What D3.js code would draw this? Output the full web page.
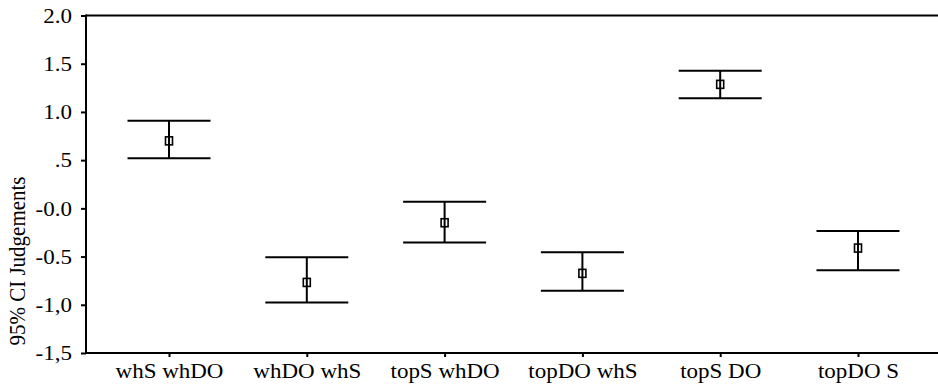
<!DOCTYPE html>
<html>
<head>
<meta charset="utf-8">
<script src="https://cdn.jsdelivr.net/npm/d3@7"></script>
<style>
  body { margin: 0; background: #fff; }
  text { font-family: "Liberation Serif", "Times New Roman", serif; }
</style>
</head>
<body>
<script>
var categories = ["whS whDO", "whDO whS", "topS whDO", "topDO whS", "topS DO", "topDO S"];
var means = [0.70, -0.768, -0.149, -0.674, 1.286, -0.412];
var upper = [0.909, -0.508, 0.069, -0.456, 1.427, -0.235];
var lower = [0.52, -0.975, -0.353, -0.855, 1.141, -0.643];
var yTicks = [2.0, 1.5, 1.0, 0.5, 0, -0.5, -1.0, -1.5];
var yTickLabels = ["2.0", "1.5", "1.0", ".5", "-0.0", "-0.5", "-1,0", "-1,5"];

var width = 938, height = 388;
var stretch = 1.15; // text in the original looks a bit wide

var svg = d3.select("body").append("svg")
    .attr("width", width)
    .attr("height", height);

var x = d3.scalePoint()
    .domain(categories)
    .range([169, 858]);

var y = d3.scaleLinear()
    .domain([-1.5, 2])
    .range([353, 15.5]);

var axisX = 86;

// y axis
var yAxis = svg.append("g")
    .attr("transform", "translate(" + axisX + ",0)")
    .call(d3.axisLeft(y)
        .tickValues(yTicks)
        .tickSize(5)
        .tickFormat(function(d, i) { return yTickLabels[i]; }));

yAxis.selectAll(".tick text")
    .attr("x", -14 / stretch)
    .attr("dy", "0.34em");

// x axis
var xAxis = svg.append("g")
    .attr("transform", "translate(0," + y(-1.5) + ")")
    .call(d3.axisBottom(x).tickSize(4).tickPadding(7));

svg.selectAll(".domain").remove();
svg.selectAll(".tick line").attr("stroke", "#000").attr("stroke-width", 2);
svg.selectAll(".tick text")
    .attr("fill", "#000")
    .attr("transform", "scale(" + stretch + ",1)")
    .style("font-size", "20px");

// frame lines
svg.append("line")
    .attr("x1", axisX).attr("x2", axisX)
    .attr("y1", y(2) - 1).attr("y2", y(-1.5) + 1)
    .attr("stroke", "#000").attr("stroke-width", 2);
svg.append("line")
    .attr("x1", axisX).attr("x2", width)
    .attr("y1", y(-1.5)).attr("y2", y(-1.5))
    .attr("stroke", "#000").attr("stroke-width", 2);
svg.append("line")
    .attr("x1", axisX).attr("x2", width)
    .attr("y1", y(2)).attr("y2", y(2))
    .attr("stroke", "#000").attr("stroke-width", 2);

// y label
svg.append("text")
    .attr("transform", "translate(25,261) rotate(-90) scale(1.05," + stretch + ")")
    .attr("text-anchor", "middle")
    .style("font-size", "20px")
    .text("95% CI Judgements");

// error bars
var capHalf = 41.5;
var g = svg.selectAll(".bar")
    .data(categories)
    .enter().append("g")
    .attr("class", "bar");

g.append("line")
    .attr("x1", function(d, i) { return x(d) - capHalf; })
    .attr("x2", function(d, i) { return x(d) + capHalf; })
    .attr("y1", function(d, i) { return y(upper[i]); })
    .attr("y2", function(d, i) { return y(upper[i]); })
    .attr("stroke", "#000").attr("stroke-width", 2);

g.append("line")
    .attr("x1", function(d, i) { return x(d) - capHalf; })
    .attr("x2", function(d, i) { return x(d) + capHalf; })
    .attr("y1", function(d, i) { return y(lower[i]); })
    .attr("y2", function(d, i) { return y(lower[i]); })
    .attr("stroke", "#000").attr("stroke-width", 2);

g.append("rect")
    .attr("x", function(d) { return x(d) - 3.5; })
    .attr("y", function(d, i) { return y(means[i]) - 4; })
    .attr("width", 7)
    .attr("height", 8)
    .attr("fill", "#fff")
    .attr("stroke", "#000")
    .attr("stroke-width", 1.6);

g.append("line")
    .attr("x1", function(d) { return x(d); })
    .attr("x2", function(d) { return x(d); })
    .attr("y1", function(d, i) { return y(upper[i]); })
    .attr("y2", function(d, i) { return y(lower[i]); })
    .attr("stroke", "#000").attr("stroke-width", 2);
</script>
</body>
</html>
